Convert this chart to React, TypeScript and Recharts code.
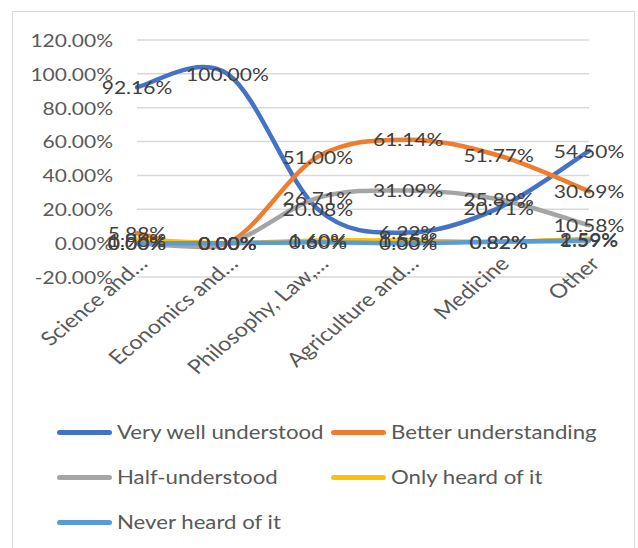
import React from 'react';
import { LineChart, Line, XAxis, YAxis, CartesianGrid, LabelList } from 'recharts';

const categories = ['Science and…', 'Economics and…', 'Philosophy, Law,…', 'Agriculture and…', 'Medicine', 'Other'];
const veryWell = [0.9216, 1.0, 0.2008, 0.0622, 0.2071, 0.545];
const better = [0.0588, 0, 0.51, 0.6114, 0.5177, 0.3069];
const half = [0, 0, 0.2671, 0.3109, 0.2589, 0.1058];
const onlyHeard = [0.0196, 0, 0.016, 0.0155, 0.0082, 0.0259];
const neverHeard = [0, 0, 0.006, 0, 0.0082, 0.0159];
const yTicks = [-0.2, 0, 0.2, 0.4, 0.6, 0.8, 1.0, 1.2];

const seriesKeys = ['veryWell', 'better', 'half', 'onlyHeard', 'neverHeard'];
const seriesNames = ['Very well understood', 'Better understanding', 'Half-understood', 'Only heard of it', 'Never heard of it'];
const seriesColors = ['#4472C4', '#ED7D31', '#A5A5A5', '#FFC000', '#5B9BD5'];
const seriesValues = [veryWell, better, half, onlyHeard, neverHeard];

const data = categories.map((c, i) => {
  const row: any = { category: c };
  seriesKeys.forEach((k, s) => { row[k] = seriesValues[s][i]; });
  return row;
});

const FONT = 'Lato, "Noto Sans", sans-serif';
const SX = 1.2;
const fmt = (v: number) => (v * 100).toFixed(2) + '%';

// Excel-like smoothing (Catmull-Rom as cubic Bezier)
function excelCurve(context: any) {
  let pts: number[][] = [];
  return {
    areaStart() {},
    areaEnd() {},
    lineStart() { pts = []; },
    point(x: number, y: number) { pts.push([+x, +y]); },
    lineEnd() {
      const n = pts.length;
      if (!n) return;
      context.moveTo(pts[0][0], pts[0][1]);
      for (let i = 0; i < n - 1; i++) {
        const p0 = pts[i - 1] || pts[i];
        const p1 = pts[i];
        const p2 = pts[i + 1];
        const p3 = pts[i + 2] || p2;
        context.bezierCurveTo(
          p1[0] + (p2[0] - p0[0]) / 6, p1[1] + (p2[1] - p0[1]) / 6,
          p2[0] - (p3[0] - p1[0]) / 6, p2[1] - (p3[1] - p1[1]) / 6,
          p2[0], p2[1]
        );
      }
    },
  };
}

const YTick = (props: any) => {
  const { x, y, payload } = props;
  return (
    <text transform={`translate(${x},${y}) scale(${SX},1)`} textAnchor="end" dominantBaseline="central"
      fill="#595959" fontSize={17.5} fontFamily={FONT}>{fmt(payload.value)}</text>
  );
};

const XTick = (props: any) => {
  const { x, y, payload } = props;
  return (
    <text transform={`translate(${x + 12},${y - 12}) scale(${SX},1) rotate(-45)`} textAnchor="end"
      fill="#595959" fontSize={19.5} fontFamily={FONT}>{payload.value}</text>
  );
};

const DataLabel = (props: any) => {
  const { x, y, value } = props;
  if (x == null || y == null) return null;
  return (
    <text transform={`translate(${x},${y}) scale(${SX},1)`} textAnchor="middle" dominantBaseline="central"
      fill="#404040" fontSize={17.5} fontFamily={FONT}>{fmt(value)}</text>
  );
};

const LegendBox = () => (
  <div style={{ position: 'absolute', left: 57, top: 417, display: 'grid', gridTemplateColumns: '274px 260px', rowGap: 15, fontFamily: FONT, fontSize: 18.5, color: '#595959' }}>
    {seriesNames.map((n, i) => (
      <div key={n} style={{ display: 'flex', alignItems: 'center', height: 30 }}>
        <div style={{ width: 55, height: 5, borderRadius: 3, background: seriesColors[i], flex: 'none' }} />
        <div style={{ marginLeft: 5, transform: `scaleX(${SX})`, transformOrigin: 'left center', whiteSpace: 'nowrap' }}>{n}</div>
      </div>
    ))}
  </div>
);

export default function App() {
  return (
    <div style={{ position: 'absolute', left: 0, top: 0, width: 638, height: 548, overflow: 'hidden', background: '#fff' }}>
      <div style={{ position: 'absolute', left: 12, top: 11, width: 621, height: 560, border: '1.5px solid #D9D9D9' }} />
      <div style={{ position: 'absolute', left: 0, top: 0 }}>
        <LineChart width={638} height={548} data={data} margin={{ top: 40, right: 49, bottom: 0, left: 0 }}>
          <CartesianGrid vertical={false} stroke="#D9D9D9" strokeWidth={1.5} />
          <XAxis dataKey="category" height={271} interval={0} tickSize={0} tickMargin={0} axisLine={false} tickLine={false} tick={<XTick />} />
          <YAxis type="number" domain={[-0.2, 1.2]} ticks={yTicks} width={137} tickSize={0} tickMargin={24} axisLine={false} tickLine={false} tick={<YTick />} />
          {seriesKeys.map((k, i) => (
            <Line key={k} dataKey={k} name={seriesNames[i]} stroke={seriesColors[i]} strokeWidth={4.5} strokeLinecap="round"
              type={excelCurve as any} dot={false} activeDot={false} isAnimationActive={false} />
          ))}
          {seriesKeys.map((k, i) => (
            <Line key={k + '-lbl'} dataKey={k} stroke="none" strokeWidth={0} type="linear" dot={false} activeDot={false}
              legendType="none" isAnimationActive={false}>
              <LabelList dataKey={k} content={<DataLabel />} />
            </Line>
          ))}
        </LineChart>
      </div>
      <LegendBox />
    </div>
  );
}
